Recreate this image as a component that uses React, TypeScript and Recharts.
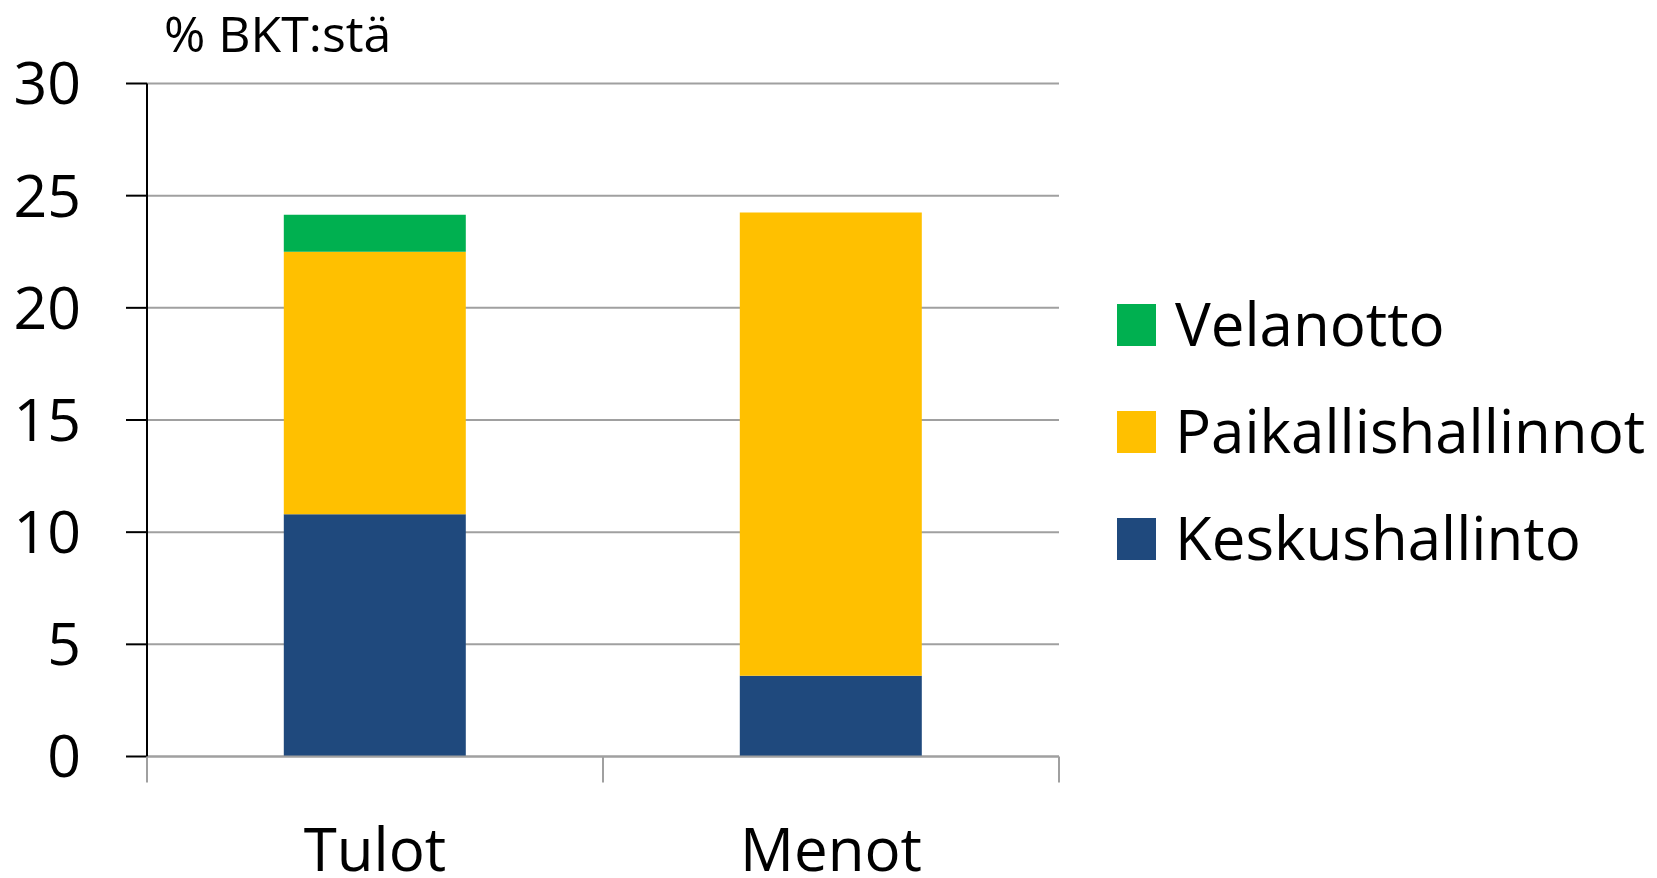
import { Bar, BarChart, CartesianGrid, XAxis, YAxis } from 'recharts'

// Values (% of GDP)
const categories = ['Tulot', 'Menot']
const keskushallinto = [10.8, 3.6]
const paikallishallinnot = [11.7, 20.65]
const velanotto = [1.65, 0]
const yTicks = [0, 5, 10, 15, 20, 25, 30]

const series = [
  { key: 'keskushallinto', name: 'Keskushallinto', color: '#1F497D', values: keskushallinto },
  { key: 'paikallishallinnot', name: 'Paikallishallinnot', color: '#FFC000', values: paikallishallinnot },
  { key: 'velanotto', name: 'Velanotto', color: '#00B050', values: velanotto },
]

const data = categories.map((name, i) => {
  const row: Record<string, string | number> = { name }
  series.forEach((s) => {
    row[s.key] = s.values[i]
  })
  return row
})

const W = 1657
const H = 878
const FONT = '"Open Sans", "Noto Sans", sans-serif'
const GRID = '#A0A0A0'
const PLOT_LEFT = 147
const PLOT_RIGHT = 1059

// Excel-style category axis: label in the middle, tick marks on band edges
function CategoryTick(props: any) {
  const { x, y, payload, index, visibleTicksCount } = props
  const half = payload?.offset || (PLOT_RIGHT - PLOT_LEFT) / categories.length / 2
  return (
    <g>
      <line x1={x - half} x2={x - half} y1={y} y2={y + 26} stroke={GRID} strokeWidth={2} />
      {index === visibleTicksCount - 1 && (
        <line x1={x + half} x2={x + half} y1={y} y2={y + 26} stroke={GRID} strokeWidth={2} />
      )}
      <text x={x} y={y + 114} textAnchor="middle" fontSize={60} fontFamily={FONT} fill="#000">
        {payload.value}
      </text>
    </g>
  )
}

export default function App() {
  const legendRows = [...series].reverse()
  return (
    <div style={{ position: 'absolute', left: 0, top: 0, width: W, height: H, background: '#fff' }}>
      <BarChart
        width={W}
        height={H}
        data={data}
        margin={{ top: 83.5, right: W - PLOT_RIGHT, bottom: 0, left: 0 }}
        barCategoryGap="30%"
      >
        <CartesianGrid vertical={false} stroke={GRID} strokeWidth={2} />
        <XAxis
          dataKey="name"
          height={121.5}
          axisLine={{ stroke: GRID, strokeWidth: 2 }}
          tickLine={false}
          tickSize={0}
          tickMargin={0}
          tick={<CategoryTick />}
        />
        <YAxis
          width={PLOT_LEFT}
          domain={[0, 30]}
          ticks={yTicks}
          interval={0}
          axisLine={{ stroke: '#000', strokeWidth: 2 }}
          tickLine={{ stroke: '#000', strokeWidth: 2 }}
          tickSize={21}
          tickMargin={45}
          tick={{ fontSize: 59, fontFamily: FONT, fill: '#000' }}
        />
        {series.map((s) => (
          <Bar key={s.key} dataKey={s.key} name={s.name} stackId="a" fill={s.color} isAnimationActive={false} />
        ))}
      </BarChart>
      <svg width={W} height={H} style={{ position: 'absolute', left: 0, top: 0, pointerEvents: 'none' }}>
        <text x={164} y={52} fontSize={50} fontFamily={FONT} fill="#000">
          % BKT:stä
        </text>
        {legendRows.map((s, i) => {
          const cy = 325 + i * 107
          return (
            <g key={s.key}>
              <rect x={1117} y={cy - 21} width={39} height={42} fill={s.color} />
              <text x={1175} y={cy + 21} fontSize={60} fontFamily={FONT} fill="#000">
                {s.name}
              </text>
            </g>
          )
        })}
      </svg>
    </div>
  )
}
